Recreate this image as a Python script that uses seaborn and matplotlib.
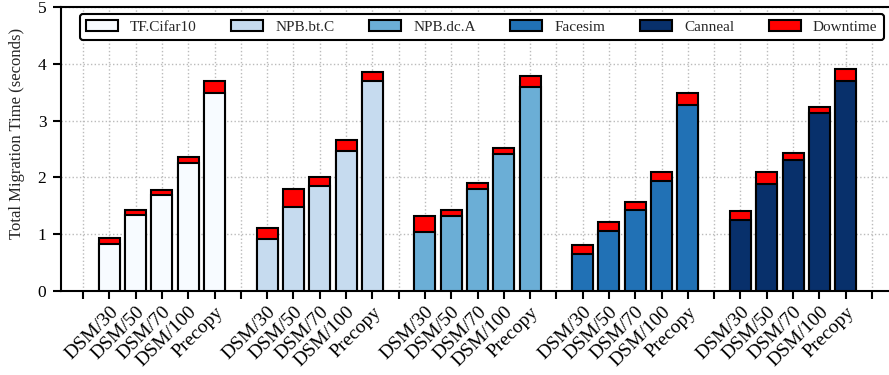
import numpy as np
import pandas as pd
import matplotlib
matplotlib.use("Agg")
import matplotlib.pyplot as plt
from matplotlib.patches import Patch
import seaborn as sns

workloads = ["TF.Cifar10", "NPB.bt.C", "NPB.dc.A", "Facesim", "Canneal"]
methods = ["DSM/30", "DSM/50", "DSM/70", "DSM/100", "Precopy"]
colors = ["#f7fbff", "#c6dbef", "#6baed6", "#2171b5", "#08306b"]
downtime_color = "#ff0000"

# migration time without downtime (seconds)
base_tf = [0.83, 1.33, 1.69, 2.26, 3.48]
base_bt = [0.92, 1.48, 1.85, 2.47, 3.69]
base_dc = [1.04, 1.32, 1.80, 2.41, 3.59]
base_fs = [0.65, 1.06, 1.43, 1.93, 3.28]
base_cn = [1.25, 1.89, 2.31, 3.13, 3.69]
# total migration time (seconds)
total_tf = [0.93, 1.43, 1.78, 2.36, 3.69]
total_bt = [1.11, 1.80, 2.00, 2.65, 3.86]
total_dc = [1.32, 1.43, 1.91, 2.52, 3.78]
total_fs = [0.81, 1.22, 1.56, 2.09, 3.49]
total_cn = [1.41, 2.10, 2.43, 3.24, 3.90]

bases = [base_tf, base_bt, base_dc, base_fs, base_cn]
totals = [total_tf, total_bt, total_dc, total_fs, total_cn]

rows = []
for g, w in enumerate(workloads):
    for j, m in enumerate(methods):
        rows.append(dict(workload=w, method=m, pos=g * 6 + j + 1,
                         base=bases[g][j], total=totals[g][j]))
df = pd.DataFrame(rows)

sns.set_theme(style="ticks")
plt.rcParams["font.family"] = ["Liberation Serif", "DejaVu Serif"]
plt.rcParams["font.size"] = 12

fig = plt.figure(figsize=(8.89, 3.75), dpi=100)
ax = fig.add_axes([61 / 889, 84 / 375, 833 / 889, 284 / 375])

sns.barplot(data=df, x="pos", y="total", color=downtime_color, saturation=1,
            native_scale=True, width=0.8, edgecolor="black", linewidth=1.5,
            errorbar=None, ax=ax, zorder=3)
sns.barplot(data=df, x="pos", y="base", hue="workload", hue_order=workloads,
            palette=colors, saturation=1, native_scale=True, dodge=False,
            width=0.8, edgecolor="black", linewidth=1.5, errorbar=None,
            ax=ax, legend=False, zorder=3)

ticks = list(range(0, 31))
labels = []
for t in ticks:
    if t % 6 == 0:
        labels.append("")
    else:
        labels.append(methods[(t % 6) - 1])
ax.set_xticks(ticks)
ax.set_xticklabels(labels, rotation=45, ha="right", rotation_mode="anchor",
                   fontsize=14)
ax.set_xlim(-0.84, 30.84)
ax.set_ylim(0, 5)
ax.set_yticks([0, 1, 2, 3, 4, 5])
ax.set_yticklabels(["0", "1", "2", "3", "4", "5"], fontsize=12.5)
ax.set_xlabel("")
ax.set_ylabel("Total Migration Time (seconds)", fontsize=12)
ax.yaxis.set_label_coords(-0.043, 0.556)
ax.grid(True, linestyle=":", color="#bbbbbb", linewidth=1.0, zorder=0)
ax.set_axisbelow(True)
for s in ax.spines.values():
    s.set_linewidth(1.5)
    s.set_color("black")
ax.tick_params(axis="both", direction="out", length=5.5, width=1.5,
               colors="black")
ax.tick_params(axis="x", pad=3.5)
ax.tick_params(axis="y", pad=5)

handles = [Patch(facecolor=c, edgecolor="black", linewidth=1.5) for c in colors]
handles.append(Patch(facecolor=downtime_color, edgecolor="black", linewidth=1.5))
leg = ax.legend(handles, workloads + ["Downtime"], ncol=6, loc="upper center",
                bbox_to_anchor=(0.505, 1.0), fontsize=11, handlelength=2.1,
                handletextpad=0.8, columnspacing=2.25, borderaxespad=0.45,
                frameon=True, fancybox=True, framealpha=1)
leg.get_frame().set_edgecolor("black")
leg.get_frame().set_linewidth(1.5)

fig.savefig("out.png", dpi=100)
